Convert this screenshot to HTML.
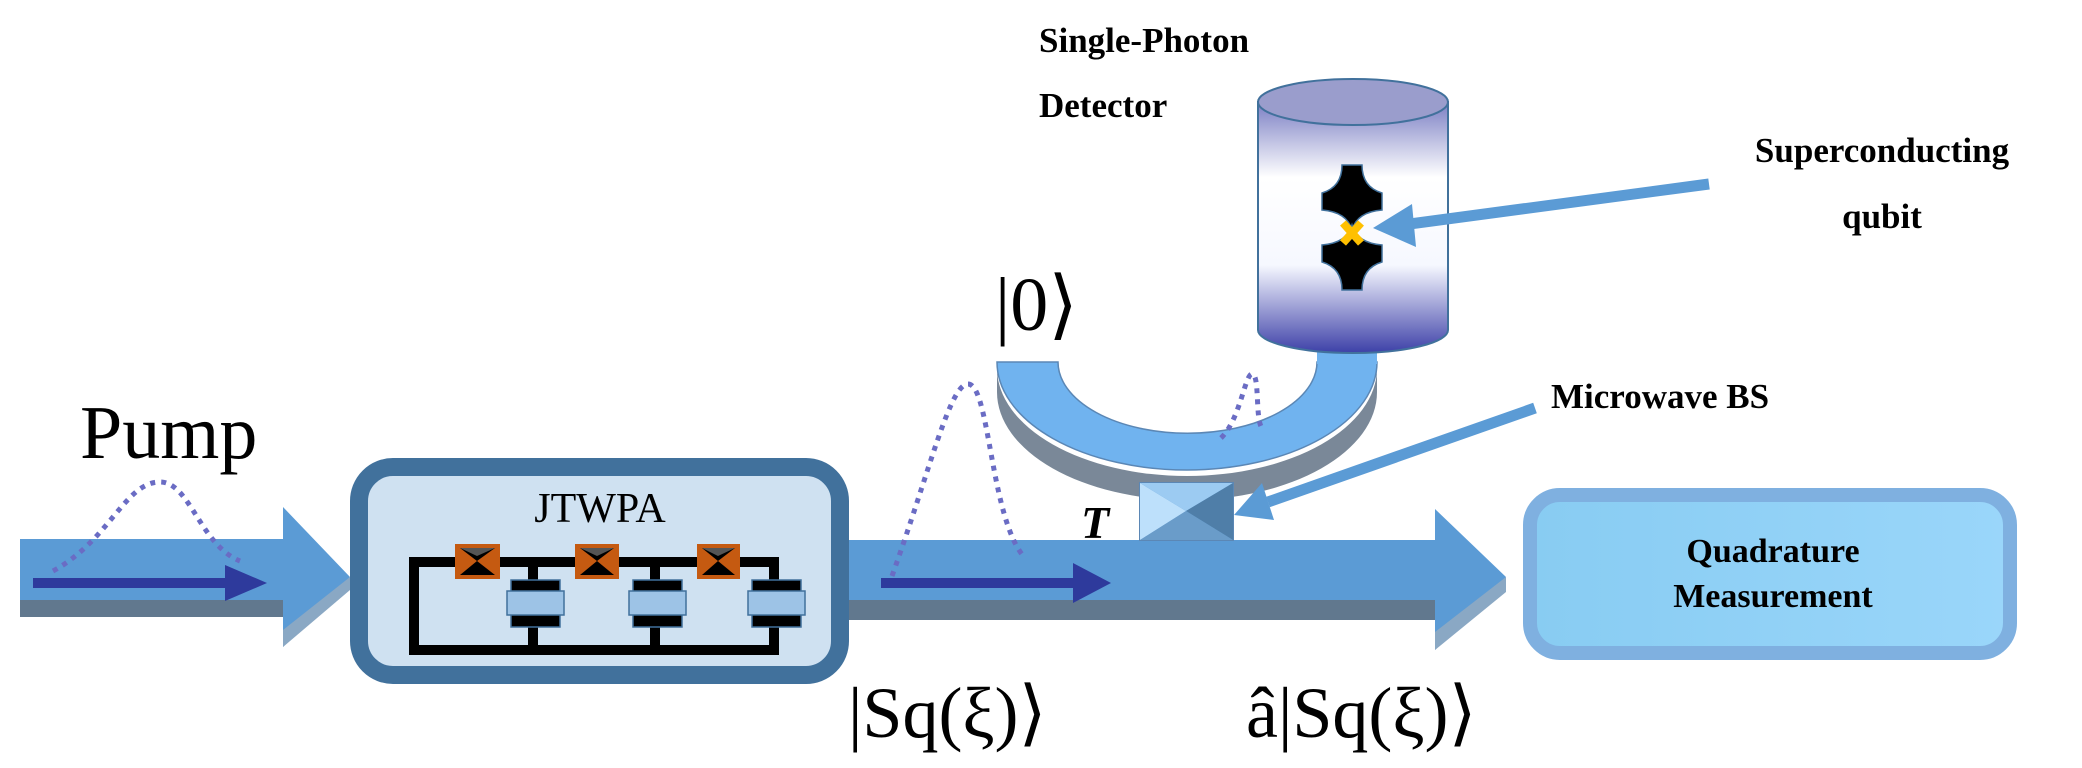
<!DOCTYPE html>
<html><head><meta charset="utf-8"><style>
html,body{margin:0;padding:0;background:#fff}
svg{display:block}
text{font-family:"Liberation Serif",serif}
</style></head><body>
<svg width="2082" height="768" viewBox="0 0 2082 768" xmlns="http://www.w3.org/2000/svg">
<defs>
<linearGradient id="cyl" x1="0" y1="0" x2="0" y2="1">
<stop offset="0" stop-color="#7b7fc4"/><stop offset="0.3" stop-color="#fff"/><stop offset="0.65" stop-color="#f6f8ff"/><stop offset="1" stop-color="#3d40a8"/>
</linearGradient>
<linearGradient id="qm" x1="0" y1="0" x2="1" y2="0">
<stop offset="0" stop-color="#88ccf2"/><stop offset="1" stop-color="#9ad6fa"/>
</linearGradient>
</defs>

<rect x="20" y="539" width="270" height="64" fill="#5b9bd5"/>
<rect x="20" y="600" width="270" height="17" fill="#61788e"/>
<polygon points="283,507 350,577 283,647" fill="#5b9bd5"/>
<polygon points="283,630 350,577 350,590 283,647" fill="#8aa8c4"/>
<rect x="33" y="578" width="200" height="10" fill="#2e3a9c"/>
<polygon points="225,565 267,583 225,601" fill="#2e3a9c"/>

<rect x="845" y="540" width="595" height="62" fill="#5b9bd5"/>
<rect x="845" y="600" width="595" height="20" fill="#61788e"/>
<polygon points="1435,509 1506,577 1435,650" fill="#5b9bd5"/>
<polygon points="1435,632 1506,577 1506,592 1435,650" fill="#8aa8c4"/>
<rect x="881" y="578" width="200" height="10" fill="#2e3a9c"/>
<polygon points="1073,563 1111,583 1073,603" fill="#2e3a9c"/>

<rect x="359" y="467" width="481" height="208" rx="34" fill="#cfe1f1" stroke="#41719c" stroke-width="18"/>
<text x="600" y="522" font-size="42" text-anchor="middle">JTWPA</text>
<g fill="none" stroke="#000" stroke-width="10">
<rect x="414" y="562" width="360" height="88"/>
<line x1="533" y1="562" x2="533" y2="650"/><line x1="655" y1="562" x2="655" y2="650"/>
</g>
<g>
<rect x="455" y="544" width="45" height="35" fill="#c55a11"/>
<rect x="575" y="544" width="44" height="35" fill="#c55a11"/>
<rect x="697" y="544" width="43" height="35" fill="#c55a11"/>
</g>
<g fill="#000">
<polygon points="460,548 495,548 477,561"/><polygon points="460,575 495,575 477,561"/>
<polygon points="580,548 614,548 597,561"/><polygon points="580,575 614,575 597,561"/>
<polygon points="702,548 735,548 718,561"/><polygon points="702,575 735,575 718,561"/>
</g>
<g fill="#555"><polygon points="460,548 495,548 477,556"/><polygon points="580,548 614,548 597,556"/><polygon points="702,548 735,548 718,556"/></g>
<g stroke="#41719c" stroke-width="1.5">
<rect x="511" y="580" width="49" height="47" fill="#000"/>
<rect x="507" y="591" width="57" height="24" fill="#9dc3e6"/>
<rect x="633" y="580" width="49" height="47" fill="#000"/>
<rect x="629" y="591" width="57" height="24" fill="#9dc3e6"/>
<rect x="752" y="580" width="49" height="47" fill="#000"/>
<rect x="748" y="591" width="57" height="24" fill="#9dc3e6"/>
</g>

<rect x="1530" y="495" width="480" height="158" rx="30" fill="url(#qm)" stroke="#7fb0e0" stroke-width="14"/>
<text x="1773" y="562" font-size="34" font-weight="bold" text-anchor="middle">Quadrature</text>
<text x="1773" y="607" font-size="34" font-weight="bold" text-anchor="middle">Measurement</text>

<path d="M997,368 A190,108 0 0 0 1377,368 L1377,392 A190,108 0 0 1 997,392 Z" fill="#7a8898"/>
<path d="M997,362 A190,108 0 0 0 1377,362 L1317,362 A129,71 0 0 1 1058,362 Z" fill="#70b3ef" stroke="#5b87b5" stroke-width="1.5"/>
<rect x="1317" y="330" width="60" height="34" fill="#70b3ef"/>

<path d="M1258,102 L1258,330 A95,23 0 0 0 1448,330 L1448,102 Z" fill="url(#cyl)" stroke="#41719c" stroke-width="2"/>
<ellipse cx="1353" cy="102" rx="95" ry="23" fill="#9a9dcc" stroke="#41719c" stroke-width="2"/>
<path d="M1342,165 h20 q0,22 20,28 v17 q-25,2 -30,20 q-5,-18 -30,-20 v-17 q20,-6 20,-28z" fill="#000" stroke="#41719c" stroke-width="1.5"/>
<path d="M1342,290 h20 q0,-22 20,-28 v-17 q-25,-2 -30,-20 q-5,18 -30,20 v17 q20,6 20,28z" fill="#000" stroke="#41719c" stroke-width="1.5"/>
<g stroke="#ffc000" stroke-width="8"><line x1="1343" y1="223" x2="1361" y2="243"/><line x1="1361" y1="223" x2="1343" y2="243"/></g>

<rect x="1140" y="483" width="93" height="57" fill="#5b9bd5" stroke="#5b87b5" stroke-width="2"/>
<polygon points="1140,483 1186,511 1140,540" fill="#bde0fb"/>
<polygon points="1140,483 1233,483 1186,511" fill="#9ccbf2"/>
<polygon points="1233,483 1233,540 1186,511" fill="#4f7ea8"/>
<polygon points="1140,540 1233,540 1186,511" fill="#6a9cc9"/>
<text x="1095" y="538" font-size="46" font-weight="bold" font-style="italic" text-anchor="middle">T</text>

<g fill="#5b9bd5">
<line x1="1709" y1="184" x2="1395" y2="226" stroke="#5b9bd5" stroke-width="11"/>
<polygon points="1373,228 1412,204 1416,247"/>
<line x1="1535" y1="408" x2="1268" y2="502" stroke="#5b9bd5" stroke-width="11"/>
<polygon points="1234,515 1262,483 1274,520"/>
</g>

<g fill="none" stroke="#6a6cc4" stroke-width="5" stroke-dasharray="5,6">
<path d="M53,571 C110,540 125,482 160,482 C190,482 200,545 240,561"/>
<path d="M892,576 C930,470 950,384 968,384 C990,384 990,520 1025,558"/>
<path d="M1221,438 C1240,420 1245,374 1252,374 C1260,374 1255,420 1262,428"/>
</g>

<text x="80" y="458" font-size="76">Pump</text>
<text x="1039" y="52" font-size="35" font-weight="bold">Single-Photon</text>
<text x="1039" y="117" font-size="35" font-weight="bold">Detector</text>
<text x="1882" y="162" font-size="35" font-weight="bold" text-anchor="middle">Superconducting</text>
<text x="1882" y="228" font-size="35" font-weight="bold" text-anchor="middle">qubit</text>
<text x="1551" y="408" font-size="35" font-weight="bold">Microwave BS</text>
<text x="995" y="330" font-size="76">|0⟩</text>
<text x="848" y="737" font-size="72">|Sq(ξ)⟩</text>
<text x="1246" y="737" font-size="72">â|Sq(ξ)⟩</text>
</svg>
</body></html>
